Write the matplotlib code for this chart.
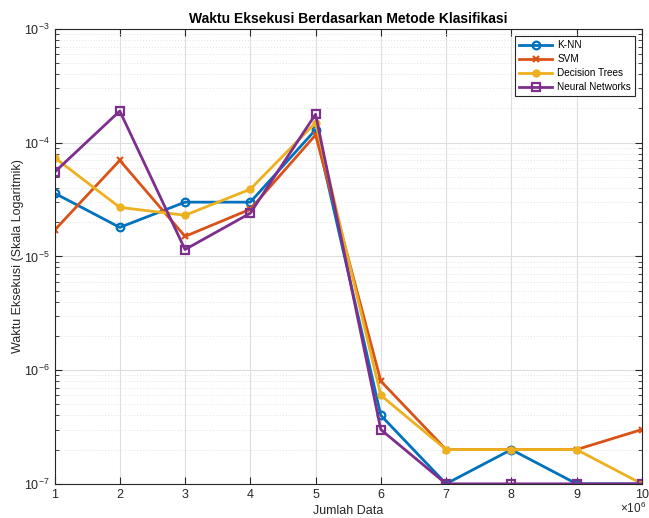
import numpy as np
import matplotlib.pyplot as plt
from matplotlib.ticker import FuncFormatter, LogLocator, NullFormatter

plt.rcParams['font.family'] = ['Liberation Sans', 'DejaVu Sans']
plt.rcParams['mathtext.fontset'] = 'custom'
plt.rcParams['mathtext.rm'] = 'Liberation Sans'
plt.rcParams['mathtext.it'] = 'Liberation Sans:italic'

jumlah_data = [1e6, 2e6, 3e6, 4e6, 5e6, 6e6, 7e6, 8e6, 9e6, 1e7]
knn = [3.6e-5, 1.8e-5, 3.0e-5, 3.0e-5, 1.3e-4, 4e-7, 1e-7, 2e-7, 1e-7, 1e-7]
svm = [1.7e-5, 7.0e-5, 1.5e-5, 2.6e-5, 1.17e-4, 8e-7, 2e-7, 2e-7, 2e-7, 3e-7]
dtree = [7.4e-5, 2.7e-5, 2.3e-5, 3.9e-5, 1.5e-4, 6e-7, 2e-7, 2e-7, 2e-7, 1e-7]
nn = [5.5e-5, 1.9e-4, 1.15e-5, 2.4e-5, 1.78e-4, 3e-7, 1e-7, 1e-7, 1e-7, 1e-7]

axc = '#262626'
fig = plt.figure(figsize=(6.49, 5.18), dpi=100)
ax = fig.add_axes([0.084, 0.066, 0.905, 0.878])

ax.plot(jumlah_data, knn, '-o', color='#0072BD', lw=2, ms=5.5, mfc='none', mew=1.6, label='K-NN')
ax.plot(jumlah_data, svm, '-x', color='#D95319', lw=2, ms=4.5, mew=1.6, label='SVM')
ax.plot(jumlah_data, dtree, '-o', color='#EDB120', lw=2, ms=5, mfc='#EDB120', mew=1, label='Decision Trees')
ax.plot(jumlah_data, nn, '-s', color='#7E2F8E', lw=2, ms=5.5, mfc='none', mew=1.6, label='Neural Networks')

ax.set_yscale('log')
ax.set_xlim(1e6, 1e7)
ax.set_ylim(1e-7, 1e-3)
ax.set_xticks(jumlah_data)
ax.xaxis.set_major_formatter(FuncFormatter(lambda v, p: '%d' % round(v / 1e6)))
ax.yaxis.set_major_locator(LogLocator(base=10, numticks=10))
ax.yaxis.set_minor_locator(LogLocator(base=10, subs=np.arange(2, 10), numticks=20))
ax.yaxis.set_minor_formatter(NullFormatter())

ax.grid(True, which='major', color='#dedede', lw=0.8)
ax.grid(True, which='minor', axis='y', color='#e2e2e2', lw=0.7, ls=(0, (1, 2)))
ax.set_axisbelow(True)

ax.tick_params(which='both', direction='in', top=True, right=True, colors=axc, labelsize=9)
ax.tick_params(which='major', length=5)
ax.tick_params(which='minor', length=3)
for s in ax.spines.values():
    s.set_color(axc)
    s.set_linewidth(0.8)

ax.set_xlabel('Jumlah Data', fontsize=9, color=axc, labelpad=3)
ax.set_ylabel('Waktu Eksekusi (Skala Logaritmik)', fontsize=9, color=axc, labelpad=0)
ax.set_title('Waktu Eksekusi Berdasarkan Metode Klasifikasi', fontsize=10, fontweight='bold', color='black', pad=4)
fig.text(0.995, 0.003, r'$\times10^{6}$', ha='right', va='bottom', fontsize=8.5, color=axc)

leg = ax.legend(loc='upper right', fontsize=7.2, fancybox=False, framealpha=1, edgecolor=axc,
                borderaxespad=0.7, handlelength=3.3, labelspacing=0.4, borderpad=0.4, handletextpad=0.5)
leg.get_frame().set_linewidth(0.8)

fig.savefig('out.png', dpi=100)
